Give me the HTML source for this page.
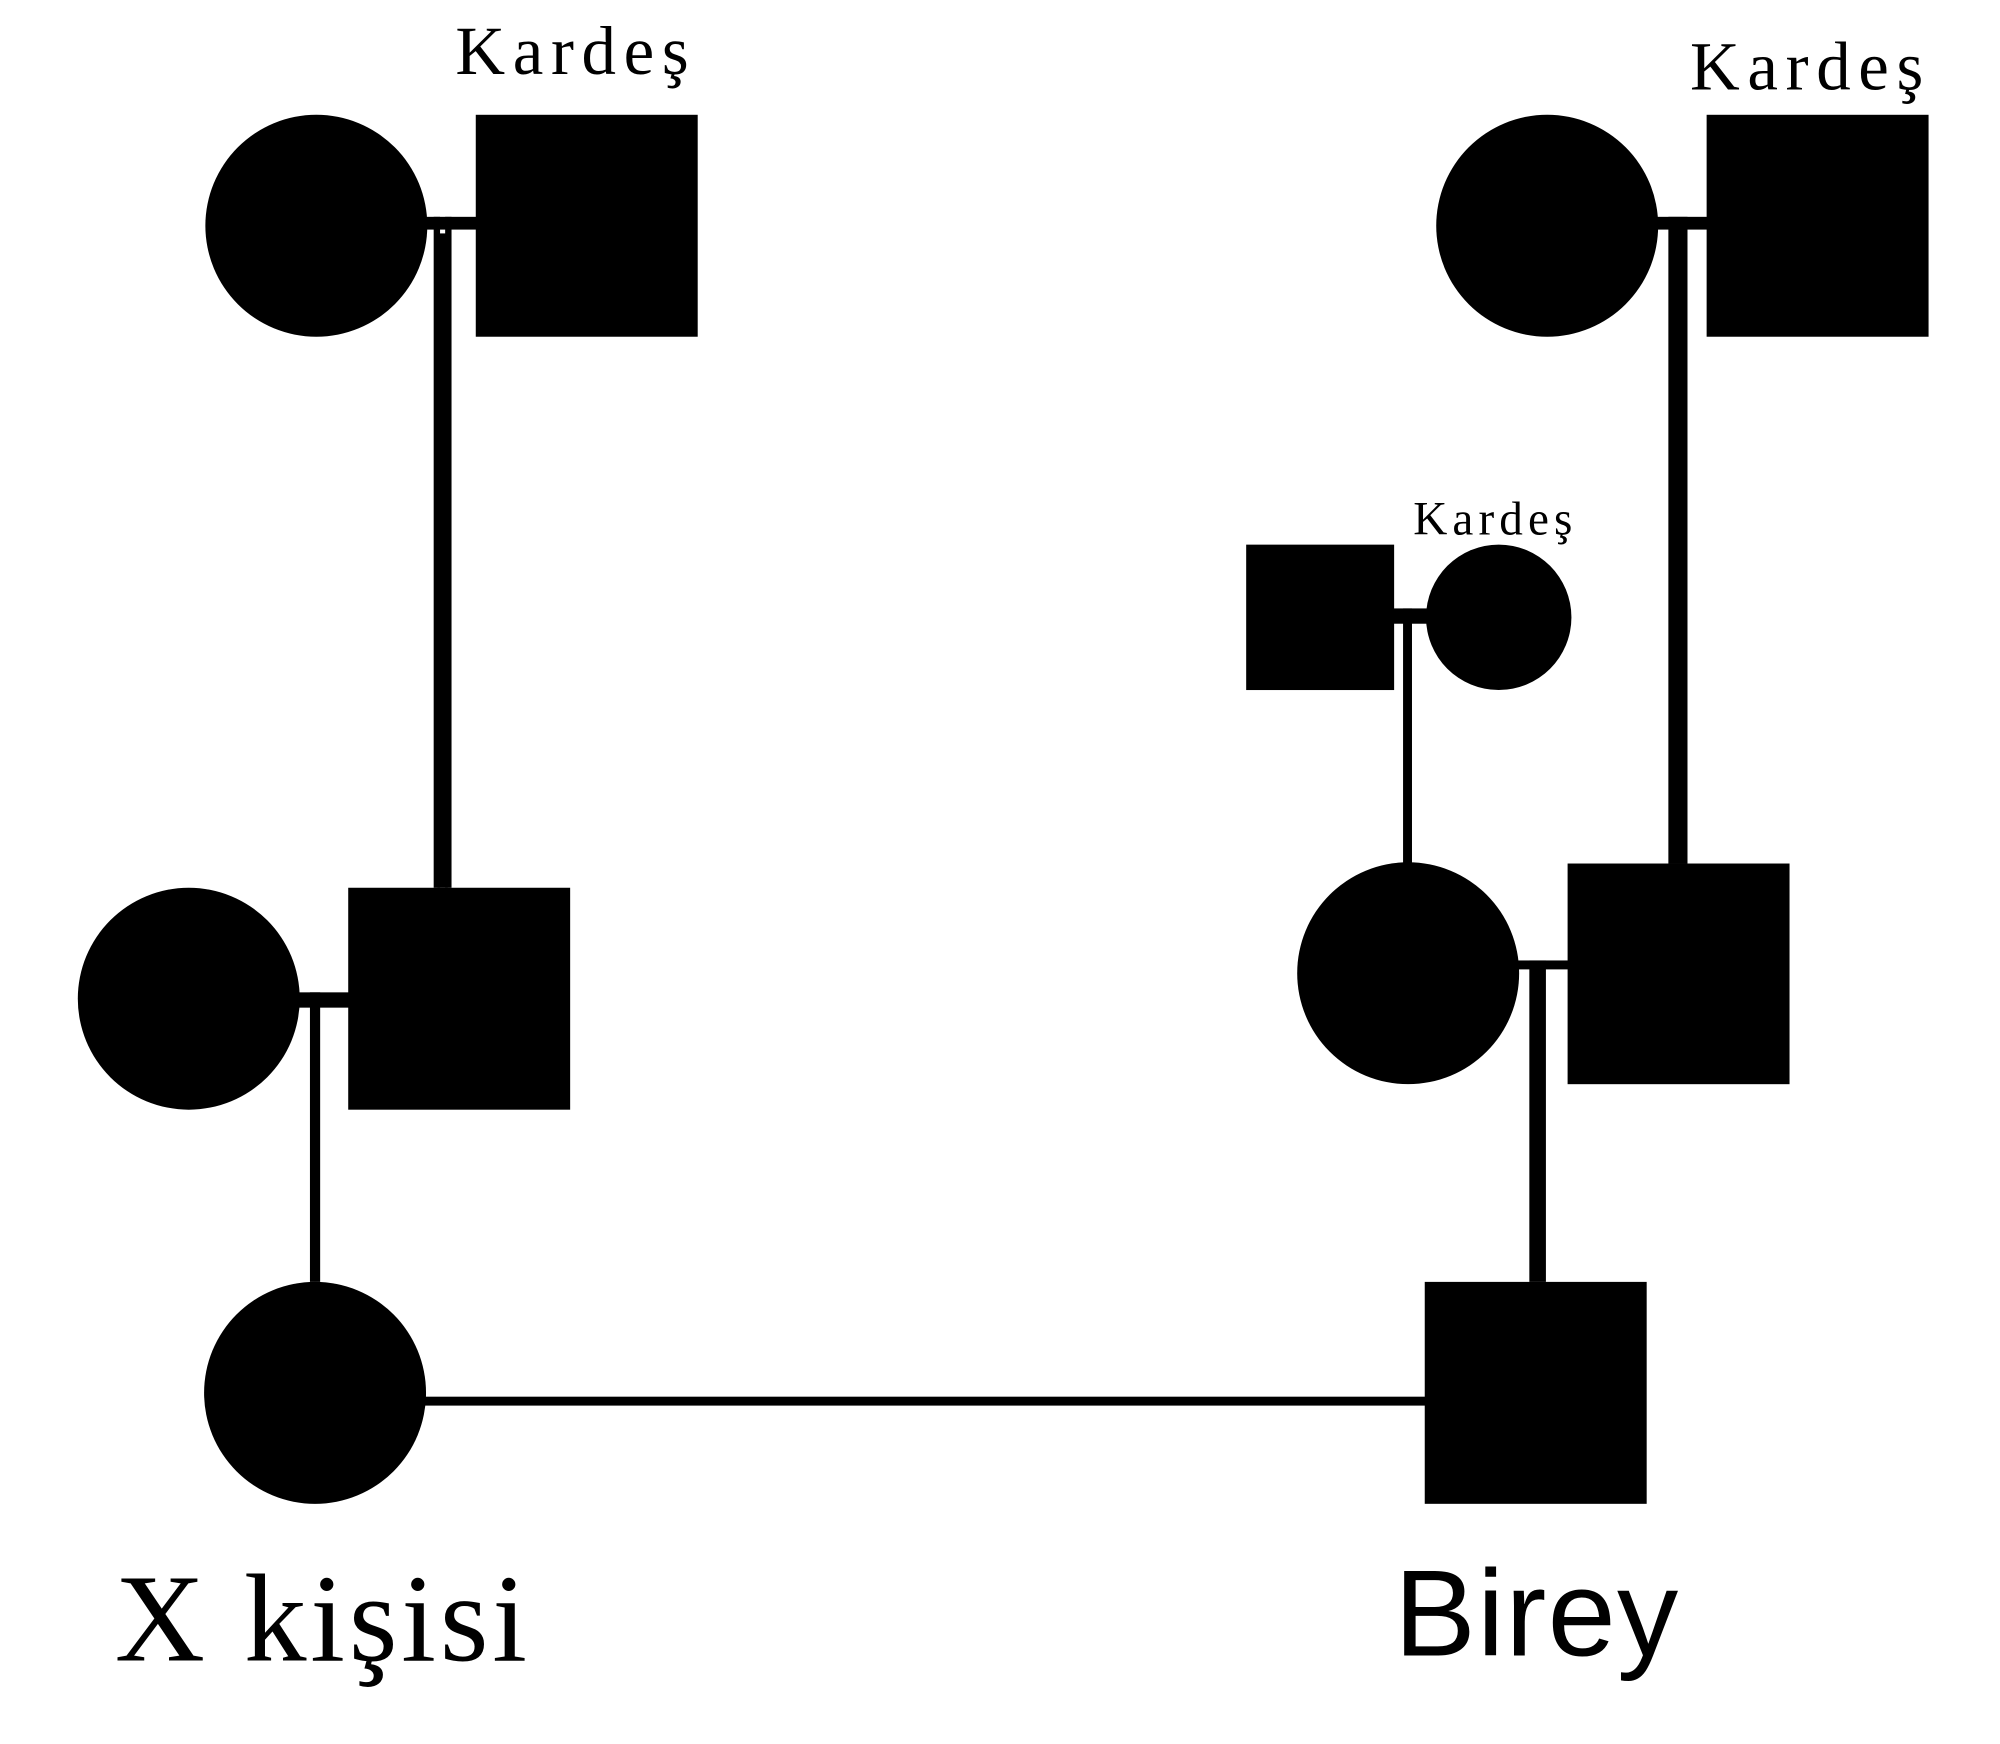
<!DOCTYPE html>
<html>
<head>
<meta charset="utf-8">
<style>
html,body{margin:0;padding:0;background:#fff;}
svg{display:block;}
</style>
</head>
<body>
<svg width="2000" height="1744" viewBox="0 0 1568 1367.3" xmlns="http://www.w3.org/2000/svg">
<rect width="1568" height="1367.3" fill="#fff"/>
<g fill="#000">
<circle cx="248" cy="177" r="87"/>
<rect x="373" y="90" width="174" height="174"/>
<rect x="333" y="170" width="42" height="10"/>
<rect x="340" y="170" width="5" height="526"/>
<rect x="349" y="170" width="5" height="526"/>
<rect x="343" y="183" width="8" height="513"/>
<circle cx="148" cy="783" r="87"/>
<rect x="273" y="696" width="174" height="174"/>
<rect x="233" y="778" width="42" height="12"/>
<rect x="243" y="778" width="8" height="227"/>
<circle cx="247" cy="1092" r="87"/>
<rect x="1117" y="1005" width="174" height="174"/>
<rect x="330" y="1095" width="789" height="7"/>
<circle cx="1213" cy="177" r="87"/>
<rect x="1338" y="90" width="174" height="174"/>
<rect x="1298" y="170" width="42" height="10"/>
<rect x="1308" y="170" width="15" height="507"/>
<circle cx="1104" cy="763" r="87"/>
<rect x="1229" y="677" width="174" height="173"/>
<rect x="1189" y="753" width="42" height="7"/>
<rect x="1199" y="753" width="13" height="252"/>
<rect x="977" y="427" width="116" height="114"/>
<circle cx="1175" cy="484" r="57"/>
<rect x="1091" y="477" width="29" height="12"/>
<rect x="1100" y="477" width="7" height="200"/>
</g>
<g fill="#000">
<text x="357" y="58" font-family="Liberation Serif, serif" font-size="54" letter-spacing="6">Kardeş</text>
<text x="1325" y="70" font-family="Liberation Serif, serif" font-size="54" letter-spacing="6">Kardeş</text>
<text x="1108" y="419" font-family="Liberation Serif, serif" font-size="37" letter-spacing="4">Kardeş</text>
<text x="90" y="1302" font-family="Liberation Serif, serif" font-size="98" letter-spacing="3">X kişisi</text>
<text x="1093" y="1298" font-family="Liberation Sans, sans-serif" font-size="96" letter-spacing="1">Birey</text>
</g>
</svg>
</body>
</html>
